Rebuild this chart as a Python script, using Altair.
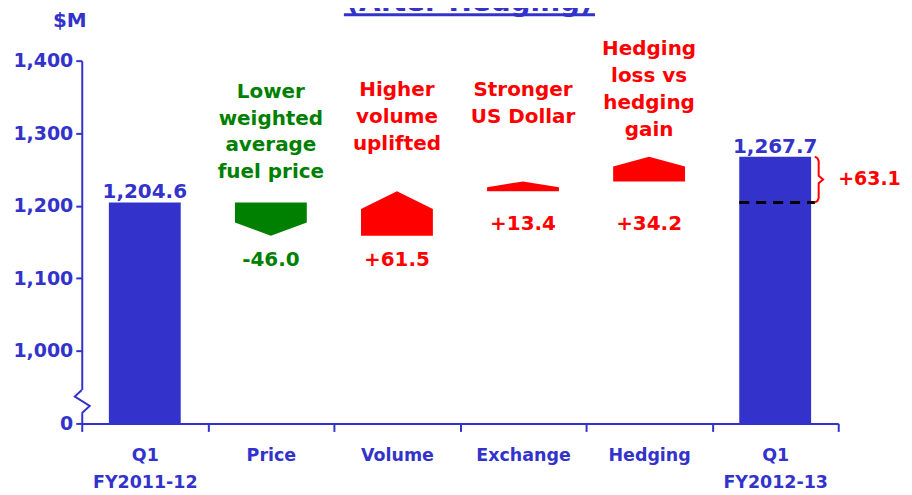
import altair as alt
import pandas as pd

# ---------------- data ----------------
categories = ["Q1\nFY2011-12", "Price", "Volume", "Exchange", "Hedging", "Q1\nFY2012-13"]
total_names = ["Q1\nFY2011-12", "Q1\nFY2012-13"]
total_values = [1204.6, 1267.7]
step_names = ["Price", "Volume", "Exchange", "Hedging"]
step_values = [-46.0, 61.5, 13.4, 34.2]
step_notes = [
    "Lower\nweighted\naverage\nfuel price",
    "Higher\nvolume\nuplifted",
    "Stronger\nUS Dollar",
    "Hedging\nloss vs\nhedging\ngain",
]
note_tops = [1371, 1373, 1373, 1430]
value_label_y = [1125, 1125, 1175, 1175]
net_change_label = "+63.1"
y_tick_values = [0, 1000, 1100, 1200, 1300, 1400]
unit_label = "$M"
title_text = "(After Hedging)"

# ---------------- style ----------------
BLUE = "#3333CC"
RED = "#FF0000"
GREEN = "#008000"
FONT = "DejaVu Sans"
HW = 0.285            # half bar width (in category units)
BREAK_BASE = 900      # axis position where "0" is drawn (broken axis)
# zig-zag of the broken axis (axis units)
break_x = [0.0, -0.055, 0.063, 0.0]
break_y = [946, 937, 924, 914]


def ax(v):
    return v if v >= 1000 else BREAK_BASE


# ---------------- scales / axes ----------------
xscale = alt.Scale(domain=[0, 6], nice=False, zero=False)
yscale = alt.Scale(domain=[BREAK_BASE, 1400], nice=False, zero=False)


def js_label(c):
    parts = c.split("\n")
    if len(parts) == 1:
        return "'" + c + "'"
    return "[" + ",".join("'" + p + "'" for p in parts) + "]"


label_expr = "''"
for i in reversed(range(len(categories))):
    label_expr = f"datum.value == {i + 0.5} ? {js_label(categories[i])} : ({label_expr})"

xaxis = alt.Axis(
    values=[i * 0.5 for i in range(13)],
    labelExpr=label_expr,
    title=None,
    grid=False,
    domainColor=BLUE,
    domainWidth=2,
    tickColor=BLUE,
    tickWidth=2,
    tickSize=8,
    tickOpacity={"condition": {"test": "datum.value % 1 == 0", "value": 1}, "value": 0},
    labelColor=BLUE,
    labelFont=FONT,
    labelFontSize=17.5,
    labelFontWeight="bold",
    labelPadding=15,
    labelLineHeight=27,
    labelOverlap=False,
    labelFlush=False,
    labelBound=False,
)
yaxis = alt.Axis(
    values=[ax(v) for v in y_tick_values],
    labelExpr=f"datum.value == {BREAK_BASE} ? '0' : format(datum.value, ',')",
    title=None,
    grid=False,
    domainColor=BLUE,
    domainWidth=2,
    tickColor=BLUE,
    tickWidth=2,
    tickSize=6,
    labelColor=BLUE,
    labelFont=FONT,
    labelFontSize=19,
    labelFontWeight="bold",
    labelPadding=3,
)


def X(f):
    return alt.X(f"{f}:Q", scale=xscale, axis=xaxis)


def Y(f):
    return alt.Y(f"{f}:Q", scale=yscale, axis=yaxis)


# ---------------- frames ----------------
bar_rows = []
total_lab_rows = []
for name, val in zip(total_names, total_values):
    c = categories.index(name) + 0.5
    bar_rows.append({"x0": c - HW, "x1": c + HW, "y0": ax(0), "y1": val})
    total_lab_rows.append({"x": c, "y": val, "text": f"{val:,.1f}"})
bars_df = pd.DataFrame(bar_rows)
total_lab_df = pd.DataFrame(total_lab_rows)

arrow_rows = []
note_rows = []
val_rows = []
cum = total_values[0]
for name, d, note, ntop, vy in zip(step_names, step_values, step_notes, note_tops, value_label_y):
    c = categories.index(name) + 0.5
    start, end = cum, cum + d
    head = max(0.4 * abs(d), 8.0)
    col = GREEN if d < 0 else RED
    if d > 0:
        sh = end - head
        pts = [(c - HW, sh, start), (c, end, start), (c + HW, sh, start)]
    else:
        sh = end + head
        pts = [(c - HW, start, sh), (c, start, end), (c + HW, start, sh)]
    for px, py, py2 in pts:
        arrow_rows.append({"step": name, "x": px, "y": py, "y2": py2, "color": col})
    note_rows.append({"x": c, "y": ntop, "text": note, "color": col})
    val_rows.append({"x": c, "y": vy, "text": f"{d:+.1f}", "color": col})
    cum = end
arrow_df = pd.DataFrame(arrow_rows)
note_df = pd.DataFrame(note_rows)
val_df = pd.DataFrame(val_rows)

c_last = categories.index(total_names[1]) + 0.5
t0, t1 = total_values
mid = (t0 + t1) / 2
dash_df = pd.DataFrame([{"x": c_last - HW, "x2": c_last + HW + 0.03, "y": t0}])
bx0, bx1, bx2 = c_last + HW + 0.03, c_last + HW + 0.06, c_last + HW + 0.095
brace_df = pd.DataFrame(
    [
        {"o": 0, "x": bx0, "y": t1},
        {"o": 1, "x": bx1 - 0.01, "y": t1 - 2},
        {"o": 2, "x": bx1, "y": t1 - 6},
        {"o": 3, "x": bx1, "y": mid + 5},
        {"o": 4, "x": bx2, "y": mid},
        {"o": 5, "x": bx1, "y": mid - 5},
        {"o": 6, "x": bx1, "y": t0 + 6},
        {"o": 7, "x": bx1 - 0.01, "y": t0 + 2},
        {"o": 8, "x": bx0, "y": t0},
    ]
)
net_df = pd.DataFrame([{"x": 6.0, "y": mid, "text": net_change_label}])
zig_df = pd.DataFrame({"o": list(range(len(break_x))), "x": break_x, "y": break_y})
cover_df = pd.DataFrame([{"x": 0.0, "y": break_y[0], "y2": break_y[-1]}])
unit_df = pd.DataFrame([{"text": unit_label}])
title_df = pd.DataFrame([{"text": title_text}])

# ---------------- layers ----------------
bars = alt.Chart(bars_df).mark_rect(color=BLUE).encode(
    x=X("x0"), x2="x1", y=Y("y0"), y2="y1"
)
arrows = alt.Chart(arrow_df).mark_area(opacity=1).encode(
    x=X("x"), y=Y("y"), y2="y2", detail="step:N", color=alt.Color("color:N", scale=None)
)
dash = alt.Chart(dash_df).mark_rule(color="black", strokeWidth=3, strokeDash=[10, 7]).encode(
    x=X("x"), x2="x2", y=Y("y")
)
brace = alt.Chart(brace_df).mark_line(color=RED, strokeWidth=2).encode(
    x=X("x"), y=Y("y"), order="o:Q"
)
cover = alt.Chart(cover_df).mark_rule(color="white", strokeWidth=5).encode(
    x=X("x"), y=Y("y"), y2="y2"
)
zig = alt.Chart(zig_df).mark_line(color=BLUE, strokeWidth=2).encode(
    x=X("x"), y=Y("y"), order="o:Q"
)
text_style = dict(font=FONT, fontSize=20, fontWeight="bold")
notes = alt.Chart(note_df).mark_text(
    lineBreak="\n", lineHeight=27, align="center", baseline="top", **text_style
).encode(x=X("x"), y=Y("y"), text="text:N", color=alt.Color("color:N", scale=None))
vals = alt.Chart(val_df).mark_text(align="center", baseline="middle", **text_style).encode(
    x=X("x"), y=Y("y"), text="text:N", color=alt.Color("color:N", scale=None)
)
totals_txt = alt.Chart(total_lab_df).mark_text(
    align="center", baseline="alphabetic", dy=-4, color=BLUE, **text_style
).encode(x=X("x"), y=Y("y"), text="text:N")
net_txt = alt.Chart(net_df).mark_text(
    align="left", baseline="middle", dx=0, color=RED, font=FONT, fontSize=19, fontWeight="bold"
).encode(x=X("x"), y=Y("y"), text="text:N")
unit_txt = alt.Chart(unit_df).mark_text(
    align="center", baseline="middle", color=BLUE, **text_style
).encode(x=alt.value(-12), y=alt.value(-40), text="text:N")
title_txt = alt.Chart(title_df).mark_text(
    align="center", baseline="alphabetic", color=BLUE, font=FONT, fontSize=28, fontWeight="bold"
).encode(x=alt.value(389), y=alt.value(-50), text="text:N")
title_line = alt.Chart(title_df).mark_rule(color=BLUE, strokeWidth=3).encode(
    x=alt.value(263), x2=alt.value(515), y=alt.value(-46)
)

chart = (
    alt.layer(bars, arrows, dash, brace, cover, zig, notes, vals, totals_txt, net_txt,
              unit_txt, title_txt, title_line)
    .properties(
        width=759,
        height=364,
        padding={"left": 74, "top": 52, "right": 66, "bottom": 68},
        autosize=alt.AutoSizeParams(type="none"),
        background="white",
    )
    .configure_view(stroke=None)
)

chart.save("out.html", embed_options={"renderer": "svg", "actions": False})
